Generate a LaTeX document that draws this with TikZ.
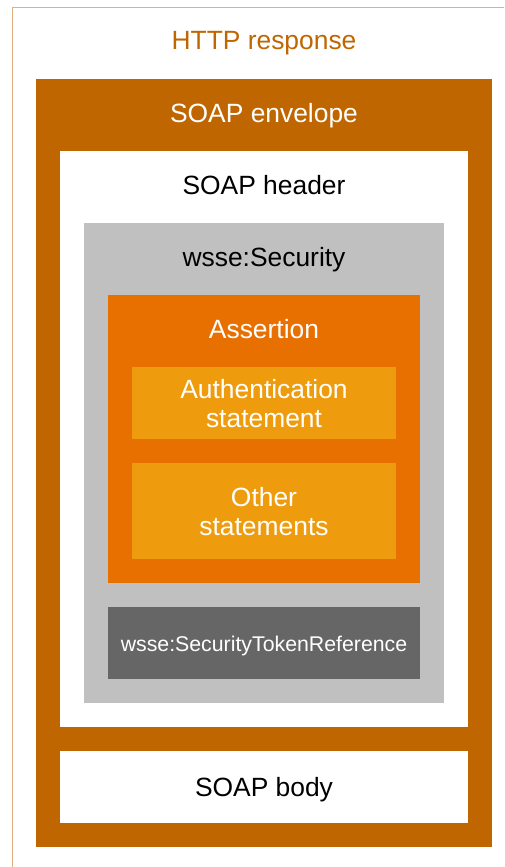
\documentclass[tikz,border=0pt]{standalone}
\usepackage{fontspec}
\setmainfont{Liberation Sans}
\definecolor{envc}{RGB}{192,102,0}
\definecolor{outc}{RGB}{226,176,126}
\definecolor{assc}{RGB}{232,112,0}
\definecolor{stmc}{RGB}{238,156,14}
\definecolor{secc}{RGB}{192,192,192}
\definecolor{strc}{RGB}{102,102,102}
\begin{document}
\begin{tikzpicture}[x=1pt,y=-1pt,
  lbl/.style={anchor=base,inner sep=0pt,font=\fontsize{26.4}{28.5}\selectfont,align=center},
  box/.style={draw=none,inner sep=0pt}]
\useasboundingbox (0,0) rectangle (504,867);
\begin{scope}
\clip (0,0) rectangle (504,867);
\draw[outc,line width=1pt] (12.5,7.5) rectangle (540,900);
\end{scope}
\fill[envc] (36,79) rectangle (492,847);
\fill[white] (60,151) rectangle (468,727);
\fill[secc] (84,223) rectangle (444,703);
\fill[assc] (108,295) rectangle (420,583);
\fill[stmc] (132,367) rectangle (396,439);
\fill[stmc] (132,463) rectangle (396,559);
\fill[strc] (108,607) rectangle (420,679);
\fill[white] (60,751) rectangle (468,823);
\node[lbl,text=envc] (http) at (264,50) {HTTP response};
\node[lbl,text=white] (env) at (264,122) {SOAP envelope};
\node[lbl,text=black] (hdr) at (264,194) {SOAP header};
\node[lbl,text=black] (sec) at (264,266) {wsse:Security};
\node[lbl,text=white] (ass) at (264,338) {Assertion};
\node[lbl,text=white] (auth1) at (264,398) {Authentication};
\node[lbl,text=white] (auth2) at (264,427) {statement};
\node[lbl,text=white] (oth1) at (264,506) {Other};
\node[lbl,text=white] (oth2) at (264,535) {statements};
\node[lbl,text=white,font=\fontsize{21.3}{24}\selectfont] (str) at (264,651) {wsse:SecurityTokenReference};
\node[lbl,text=black] (body) at (264,796) {SOAP body};
\end{tikzpicture}
\end{document}
